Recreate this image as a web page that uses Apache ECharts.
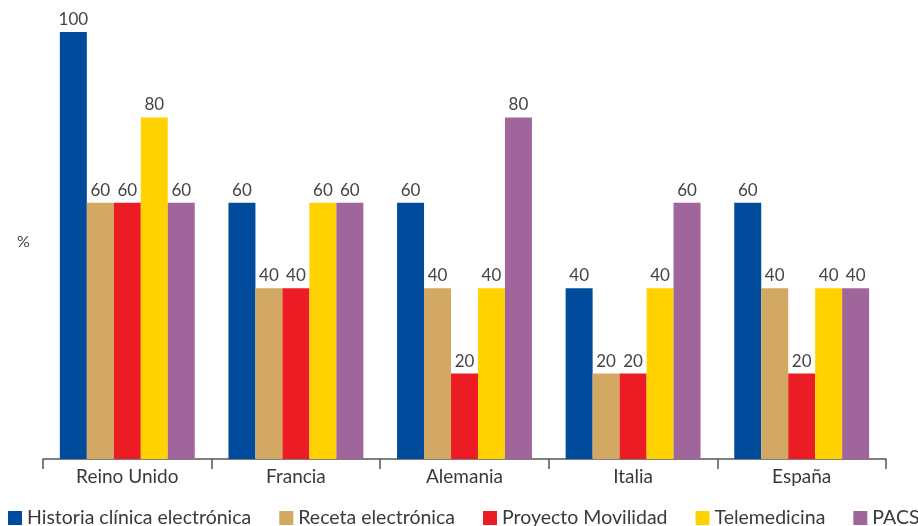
<!DOCTYPE html>
<html>
<head>
<meta charset="utf-8">
<script src="https://cdn.jsdelivr.net/npm/echarts@6/dist/echarts.min.js"></script>
<style>
  html, body { margin: 0; padding: 0; background: #fff; }
  #chart { width: 918px; height: 526px; }
</style>
</head>
<body>
<div id="chart"></div>
<script>
const countries = ['Reino Unido', 'Francia', 'Alemania', 'Italia', 'España'];
const historiaClinica = [100, 60, 60, 40, 60];
const recetaElectronica = [60, 40, 40, 20, 40];
const proyectoMovilidad = [60, 40, 20, 20, 20];
const telemedicina = [80, 60, 40, 40, 40];
const pacs = [60, 60, 80, 60, 40];

const seriesDefs = [
  { name: 'Historia clínica electrónica', data: historiaClinica, color: '#004b9b' },
  { name: 'Receta electrónica', data: recetaElectronica, color: '#d3a862' },
  { name: 'Proyecto Movilidad', data: proyectoMovilidad, color: '#ec1c24' },
  { name: 'Telemedicina', data: telemedicina, color: '#ffd200' },
  { name: 'PACS', data: pacs, color: '#a0659a' }
];

const chart = echarts.init(document.getElementById('chart'));
chart.setOption({
  animation: false,
  textStyle: { fontFamily: 'Lato' },
  grid: { left: 43, right: 32, top: 32, bottom: 67, containLabel: false },
  legend: {
    left: 8,
    top: 508,
    width: 1200,
    padding: 0,
    itemWidth: 14,
    itemHeight: 14,
    itemGap: 28,
    icon: 'rect',
    textStyle: { fontSize: 19.5, color: '#3a3a3a', fontFamily: 'Lato' },
    data: seriesDefs.map(s => s.name)
  },
  xAxis: {
    type: 'category',
    data: countries,
    axisLine: { lineStyle: { color: '#555', width: 1.5 } },
    axisTick: { show: true, length: 10, interval: 0, lineStyle: { color: '#555', width: 1.5 } },
    axisLabel: { fontSize: 19, color: '#3a3a3a', margin: 8 }
  },
  yAxis: {
    type: 'value',
    min: 0,
    max: 100,
    show: false
  },
  graphic: [{
    type: 'text',
    left: 17,
    top: 234,
    style: { text: '%', fontSize: 16, fill: '#444', fontFamily: 'Lato' }
  }],
  series: seriesDefs.map(s => ({
    name: s.name,
    type: 'bar',
    data: s.data,
    barGap: '0%',
    barCategoryGap: '20%',
    itemStyle: { color: s.color },
    label: {
      show: true,
      position: 'top',
      distance: 4,
      fontSize: 17,
      color: '#444',
      fontFamily: 'Lato'
    }
  }))
});
</script>
</body>
</html>
